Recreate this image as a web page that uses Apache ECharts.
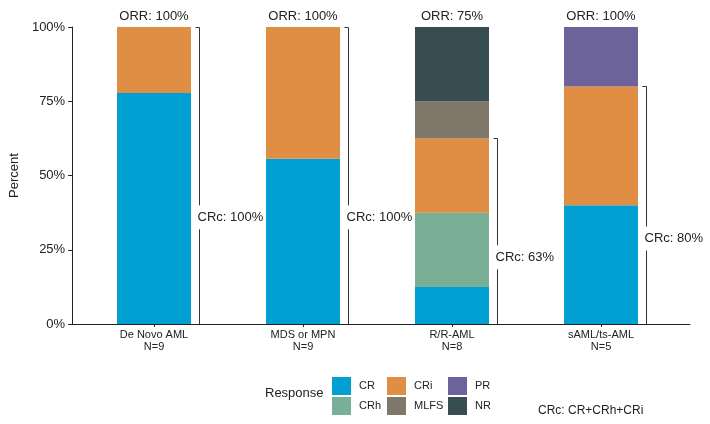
<!DOCTYPE html>
<html>
<head>
<meta charset="utf-8">
<script src="https://cdn.jsdelivr.net/npm/echarts@6/dist/echarts.min.js"></script>
<style>html,body{margin:0;padding:0;background:#fff}#c{width:710px;height:424px}</style>
</head>
<body>
<div id="c"></div>
<script>
const categories = ['De Novo AML', 'MDS or MPN', 'R/R-AML', 'sAML/ts-AML'];
const nLabels = ['N=9', 'N=9', 'N=8', 'N=5'];
const CR   = [77.8, 55.6, 12.5, 40];
const CRh  = [0, 0, 25, 0];
const CRi  = [22.2, 44.4, 25, 40];
const MLFS = [0, 0, 12.5, 0];
const PR   = [0, 0, 0, 20];
const NR   = [0, 0, 25, 0];
const orr = ['100%', '100%', '75%', '100%'];
const crcTop = [100, 100, 62.5, 80];
const crcLabels = ['100%', '100%', '63%', '80%'];
const yTicks = [0, 25, 50, 75, 100];

const FONT = '"Liberation Sans", Arial, Helvetica, sans-serif';
const TXT = '#222';
const colors = {CR: '#00A0D3', CRh: '#79AF97', CRi: '#DF8E44', MLFS: '#7F786A', PR: '#6B6399', NR: '#374D52'};
const seriesDefs = [['CR', CR], ['CRh', CRh], ['CRi', CRi], ['MLFS', MLFS], ['PR', PR], ['NR', NR]];
const BAR_W = 74;

const chart = echarts.init(document.getElementById('c'), null, {renderer: 'canvas'});

const barSeries = seriesDefs.map(([name, arr]) => ({
  name: name,
  type: 'bar',
  stack: 'resp',
  xAxisIndex: 1,
  yAxisIndex: 1,
  barWidth: BAR_W,
  itemStyle: {color: colors[name]},
  data: arr,
  silent: true
}));

const legendBase = {
  orient: 'vertical',
  top: 377,
  itemWidth: 19,
  itemHeight: 18,
  itemGap: 2,
  padding: 0,
  icon: 'rect',
  selectedMode: false,
  textStyle: {fontFamily: FONT, fontSize: 11, color: TXT, padding: [0, 0, 0, 3]}
};

const option = {
  animation: false,
  color: seriesDefs.map(d => colors[d[0]]),
  grid: [
    {left: 63, right: 20, top: 27, bottom: 100, containLabel: false},
    {left: 79.5, right: 34.5, top: 27, bottom: 100, containLabel: false}
  ],
  title: [
    {text: 'Response', left: 265, top: 387, padding: 0, textStyle: {fontFamily: FONT, fontSize: 13, fontWeight: 'normal', color: TXT}},
    {text: 'CRc: CR+CRh+CRi', left: 538, top: 405, padding: 0, textStyle: {fontFamily: FONT, fontSize: 12, fontWeight: 'normal', color: TXT}}
  ],
  legend: [
    Object.assign({}, legendBase, {left: 332, data: ['CR', 'CRh']}),
    Object.assign({}, legendBase, {left: 387, data: ['CRi', 'MLFS']}),
    Object.assign({}, legendBase, {left: 448, data: ['PR', 'NR']})
  ],
  xAxis: [
    {
      gridIndex: 0,
      type: 'value',
      min: 0, max: 1,
      splitLine: {show: false},
      axisLine: {show: true, lineStyle: {color: '#222', width: 1}},
      axisTick: {show: false},
      axisLabel: {show: false}
    },
    {
      gridIndex: 1,
      type: 'category',
      data: categories,
      splitLine: {show: false},
      axisLine: {show: false},
      axisTick: {show: true, alignWithLabel: true, length: 3, lineStyle: {color: '#222'}},
      axisLabel: {
        interval: 0,
        formatter: (v, i) => v + '\n' + nLabels[i],
        fontFamily: FONT, fontSize: 11, lineHeight: 12, color: TXT, margin: 5
      }
    }
  ],
  yAxis: [
    {
      gridIndex: 0,
      type: 'value',
      min: 0,
      max: 100,
      interval: 25,
      name: 'Percent',
      nameLocation: 'middle',
      nameGap: 42,
      nameTextStyle: {fontFamily: FONT, fontSize: 13, color: TXT},
      splitLine: {show: false},
      axisLine: {show: true, lineStyle: {color: '#222', width: 1}},
      axisTick: {show: true, length: 4, lineStyle: {color: '#222'}},
      axisLabel: {formatter: v => yTicks.includes(v) ? v + '%' : '', fontFamily: FONT, fontSize: 13, color: TXT, margin: 7}
    },
    {
      gridIndex: 1,
      type: 'value',
      min: 0,
      max: 100,
      interval: 25,
      show: false,
      splitLine: {show: false}
    }
  ],
  series: barSeries.concat([
    {
      type: 'custom',
      silent: true,
      clip: false,
      xAxisIndex: 1,
      yAxisIndex: 1,
      data: orr.map((_, i) => [i, 100]),
      renderItem: function (params, api) {
        const p = api.coord([api.value(0), api.value(1)]);
        return {
          type: 'text', x: p[0], y: p[1] - 4,
          style: {text: 'ORR: ' + orr[params.dataIndex], font: '13px ' + FONT, fill: TXT, textAlign: 'center', textVerticalAlign: 'bottom'}
        };
      }
    },
    {
      type: 'custom',
      silent: true,
      clip: false,
      xAxisIndex: 1,
      yAxisIndex: 1,
      data: crcTop.map((v, i) => [i, v]),
      renderItem: function (params, api) {
        const i = api.value(0), top = api.value(1);
        const pTop = api.coord([i, top]);
        const pBot = api.coord([i, 0]);
        const x = Math.round(pTop[0] + BAR_W / 2 + 8) + 0.5;
        const yT = Math.round(pTop[1]) + 0.5;
        const yB = pBot[1];
        const labelY = yB - (yB - yT) * 0.36;
        const ls = {stroke: '#333', lineWidth: 1, fill: null};
        return {
          type: 'group',
          children: [
            {type: 'polyline', shape: {points: [[x - 4, yT], [x, yT], [x, labelY - 12]]}, style: ls},
            {type: 'line', shape: {x1: x, y1: labelY + 12, x2: x, y2: yB}, style: ls},
            {type: 'text', x: x - 2, y: labelY, style: {text: 'CRc: ' + crcLabels[params.dataIndex], font: '13px ' + FONT, fill: TXT, textAlign: 'left', textVerticalAlign: 'middle'}}
          ]
        };
      }
    }
  ])
};
chart.setOption(option);
</script>
</body>
</html>
